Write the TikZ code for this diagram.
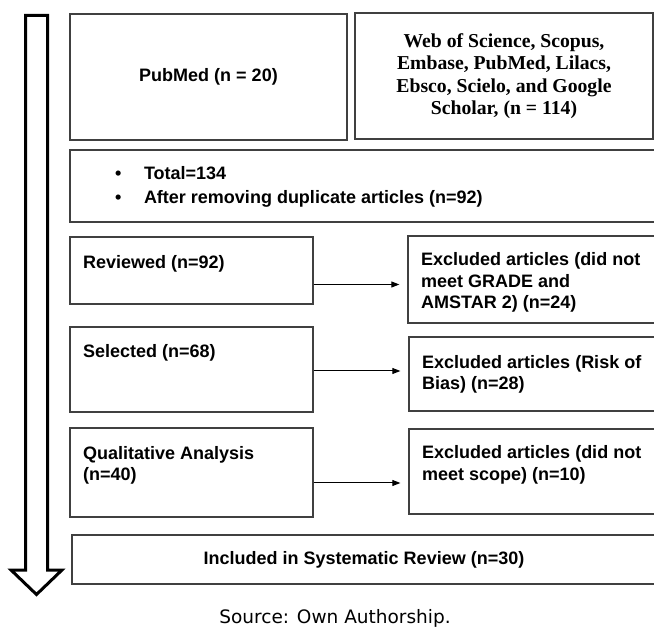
\documentclass[tikz,border=0pt]{standalone}
\usepackage{fontspec}
\setmainfont{Liberation Sans}
\newfontfamily\timesbold{Liberation Serif}[BoldFont=* Bold]
\newfontfamily\srcfont{DejaVu Sans}
\usetikzlibrary{arrows.meta}
\definecolor{boxgray}{HTML}{404040}
\tikzset{
  box/.style={draw=boxgray, line width=1.3pt, rectangle, inner sep=0pt, align=center,
              font=\fontsize{18}{21.5}\selectfont\bfseries},
  lbl/.style={anchor=north west, inner sep=0pt, align=left},
  arr/.style={-{Triangle[length=8pt,width=6pt]}, line width=1pt, shorten >=8pt},
  bigarrow/.style={draw=black, line width=3pt, line join=miter, fill=white}
}
\begin{document}
\begin{tikzpicture}[x=1pt,y=-1pt]
\clip (0,0) rectangle (654,628);
\fill[white] (0,0) rectangle (654,628);
% big down arrow
\draw[bigarrow] (25.5,15.5) -- (47.5,15.5) -- (47.5,570) -- (62,570) -- (36.5,594.5) -- (11,570) -- (25.5,570) -- cycle;
% boxes
\node[box, minimum width=277pt, minimum height=126pt] (pub) at (208.5,77) {PubMed (n = 20)};
\node[box, minimum width=298pt, minimum height=126pt, font=\fontsize{19.7}{22.5}\selectfont\timesbold\bfseries] (web) at (504,76) {Web of Science, Scopus,\\Embase, PubMed, Lilacs,\\Ebsco, Scielo, and Google\\Scholar, (n = 114)};
\node[box, minimum width=586pt, minimum height=72pt] (tot) at (363,186) {};
\node[box, minimum width=243pt, minimum height=67pt] (rev) at (191.5,270.5) {};
\node[box, minimum width=248pt, minimum height=87pt] (ex1) at (532,279.5) {};
\node[box, minimum width=243pt, minimum height=85pt] (sel) at (191.5,369.5) {};
\node[box, minimum width=247pt, minimum height=74pt] (ex2) at (532.5,374) {};
\node[box, minimum width=243pt, minimum height=89pt] (qual) at (191.5,472.5) {};
\node[box, minimum width=247pt, minimum height=85pt] (ex3) at (532.5,471.5) {};
\node[box, minimum width=584pt, minimum height=49pt] (inc) at (364,559.5) {Included in Systematic Review (n=30)};
% texts
\begin{scope}[font=\bfseries]
\node[lbl, font=\fontsize{18}{24}\selectfont\bfseries] (totT) at (115,166.5) {\textbullet\hspace{22.5pt}Total=134\\\textbullet\hspace{22.5pt}After removing duplicate articles (n=92)};
\node[lbl, font=\fontsize{18}{21.5}\selectfont\bfseries] (revT) at (83,255.5) {Reviewed (n=92)};
\node[lbl, font=\fontsize{18}{21.5}\selectfont\bfseries] (selT) at (83,344.5) {Selected (n=68)};
\node[lbl, font=\fontsize{18}{21}\selectfont\bfseries] (qualT) at (83,446.5) {Qualitative Analysis\\(n=40)};
\node[lbl, font=\fontsize{18}{21.5}\selectfont\bfseries] (ex1T) at (421,252.5) {Excluded articles (did not\\meet GRADE and\\AMSTAR 2) (n=24)};
\node[lbl, font=\fontsize{18}{21}\selectfont\bfseries] (ex2T) at (422,355.5) {Excluded articles (Risk of\\Bias) (n=28)};
\node[lbl, font=\fontsize{18}{22}\selectfont\bfseries] (ex3T) at (422,445.5) {Excluded articles (did not\\meet scope) (n=10)};
\end{scope}
% connectors
\draw[arr] ([yshift=-14pt]rev.east) -- ([yshift=-14pt]rev.east -| ex1.west);
\draw[arr] ([yshift=-1.5pt]sel.east) -- ([yshift=-1.5pt]sel.east -| ex2.west);
\draw[arr] ([yshift=-10.5pt]qual.east) -- ([yshift=-10.5pt]qual.east -| ex3.west);
% source
\node[anchor=base, inner sep=0pt, font=\fontsize{18.5}{22}\selectfont\srcfont] (src) at (335,623) {Source: Own Authorship.};
\end{tikzpicture}
\end{document}
